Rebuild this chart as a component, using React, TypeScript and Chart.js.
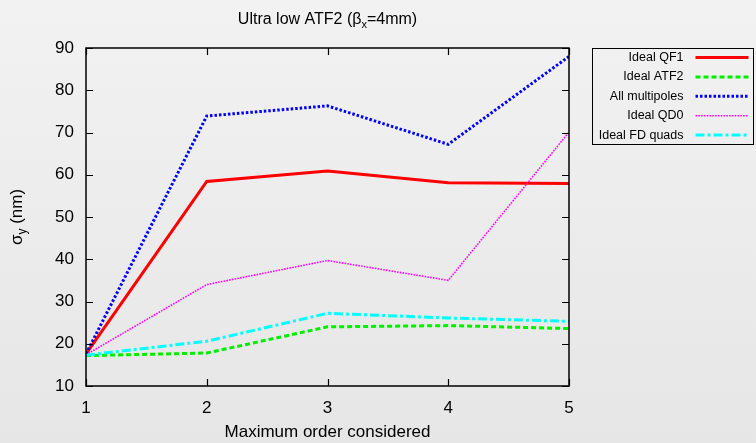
import React, { useEffect, useRef } from 'react';
import { Chart, registerables } from 'chart.js';

Chart.register(...registerables);

const FONT = '"Liberation Sans", Arial, Helvetica, sans-serif';

const orders = [1, 2, 3, 4, 5];
const yTickValues = [10, 20, 30, 40, 50, 60, 70, 80, 90];
const seriesLabels = ['Ideal QF1', 'Ideal ATF2', 'All multipoles', 'Ideal QD0', 'Ideal FD quads'];
const qf1 = [17.6, 58.4, 60.9, 58.1, 57.9];
const atf2 = [17.2, 17.8, 24.0, 24.3, 23.6];
const allMultipoles = [17.6, 73.9, 76.3, 67.2, 88.0];
const qd0 = [17.4, 34.0, 39.7, 35.0, 70.1];
const fdQuads = [17.3, 20.6, 27.2, 26.1, 25.3];

const colors = ['#ff0000', '#00ee00', '#0000ff', '#ff00ff', '#00ffff'];
const widths = [3, 3, 3, 1.6, 3];
const dashes: number[][] = [[], [5, 3], [2.5, 2], [1.6, 1.2], [9, 3, 3, 3]];

const framePlugin = {
  id: 'gnuFrame',
  beforeDraw(chart: any) {
    const { ctx, width, height } = chart;
    ctx.save();
    const g = ctx.createLinearGradient(0, 0, 0, height);
    g.addColorStop(0, '#f2f2f2');
    g.addColorStop(1, '#e6e6e6');
    ctx.fillStyle = g;
    ctx.fillRect(0, 0, width, height);
    ctx.restore();
  },
  afterDraw(chart: any) {
    const { ctx, chartArea } = chart;
    const { left, right, top, bottom } = chartArea;
    const xs = chart.scales.x;
    const ys = chart.scales.y;
    ctx.save();
    ctx.strokeStyle = '#000';
    ctx.lineWidth = 1.5;
    ctx.setLineDash([]);
    ctx.strokeRect(left, top, right - left, bottom - top);
    ctx.lineWidth = 1.2;
    const tl = 7;
    ctx.beginPath();
    yTickValues.forEach((v) => {
      const y = Math.round(ys.getPixelForValue(v)) + 0.5;
      ctx.moveTo(left, y);
      ctx.lineTo(left + tl, y);
      ctx.moveTo(right, y);
      ctx.lineTo(right - tl, y);
    });
    orders.forEach((v) => {
      const x = Math.round(xs.getPixelForValue(v)) + 0.5;
      ctx.moveTo(x, bottom);
      ctx.lineTo(x, bottom - tl);
      ctx.moveTo(x, top);
      ctx.lineTo(x, top + tl);
    });
    ctx.stroke();

    // Title with subscript
    ctx.fillStyle = '#000';
    ctx.textBaseline = 'alphabetic';
    const mainFont = `16px ${FONT}`;
    const subFont = `11px ${FONT}`;
    const parts: [string, boolean][] = [['Ultra low ATF2 (\u03B2', false], ['x', true], ['=4mm)', false]];
    let total = 0;
    parts.forEach(([t, sub]) => {
      ctx.font = sub ? subFont : mainFont;
      total += ctx.measureText(t).width;
    });
    let x0 = (left + right) / 2 - total / 2;
    const ty = 24;
    parts.forEach(([t, sub]) => {
      ctx.font = sub ? subFont : mainFont;
      ctx.fillText(t, x0, sub ? ty + 4 : ty);
      x0 += ctx.measureText(t).width;
    });

    // Y axis title rotated
    ctx.save();
    ctx.translate(22, (top + bottom) / 2);
    ctx.rotate(-Math.PI / 2);
    const yMain = `17px ${FONT}`;
    const ySub = `12px ${FONT}`;
    const yParts: [string, boolean][] = [['\u03C3', false], ['y', true], [' (nm)', false]];
    let yt = 0;
    yParts.forEach(([t, sub]) => {
      ctx.font = sub ? ySub : yMain;
      yt += ctx.measureText(t).width;
    });
    let yx = -yt / 2;
    yParts.forEach(([t, sub]) => {
      ctx.font = sub ? ySub : yMain;
      ctx.fillText(t, yx, sub ? 4 : 0);
      yx += ctx.measureText(t).width;
    });
    ctx.restore();

    // Legend
    const lx = right + 23.5;
    const ly = top + 0.5;
    const lw = 161;
    const lh = 96;
    ctx.lineWidth = 1;
    ctx.strokeStyle = '#000';
    ctx.strokeRect(lx, ly, lw, lh);
    ctx.font = `12.5px ${FONT}`;
    ctx.textAlign = 'right';
    ctx.textBaseline = 'middle';
    chart.data.datasets.forEach((ds: any, i: number) => {
      const y = top + 9.5 + i * 19.4;
      ctx.fillStyle = '#000';
      ctx.fillText(ds.label, lx + 91, y);
      ctx.beginPath();
      ctx.strokeStyle = ds.borderColor;
      ctx.lineWidth = ds.borderWidth;
      ctx.setLineDash(ds.borderDash || []);
      ctx.moveTo(lx + 103, y);
      ctx.lineTo(lx + 156, y);
      ctx.stroke();
      ctx.setLineDash([]);
    });
    ctx.restore();
  },
};

export default function App() {
  const ref = useRef<HTMLCanvasElement>(null);
  useEffect(() => {
    document.body.style.margin = '0';
    const seriesValues = [qf1, atf2, allMultipoles, qd0, fdQuads];
    const chart = new Chart(ref.current!, {
      type: 'line',
      data: {
        datasets: seriesValues.map((vals, i) => ({
          label: seriesLabels[i],
          data: vals.map((v, j) => ({ x: orders[j], y: v })),
          borderColor: colors[i],
          backgroundColor: colors[i],
          borderWidth: widths[i],
          borderDash: dashes[i],
          pointRadius: 0,
          tension: 0,
          fill: false,
          order: seriesValues.length - i,
        })),
      },
      options: {
        responsive: false,
        animation: false,
        layout: { padding: { left: 0, top: 48, right: 187, bottom: 0 } },
        plugins: {
          legend: { display: false },
          title: { display: false },
          tooltip: { enabled: false },
        },
        scales: {
          x: {
            type: 'linear',
            min: 1,
            max: 5,
            afterBuildTicks: (s: any) => {
              s.ticks = orders.map((v) => ({ value: v }));
            },
            afterFit: (s: any) => {
              s.height = 57;
            },
            grid: { display: false, drawTicks: false },
            border: { display: false },
            ticks: {
              color: '#000',
              font: { family: FONT, size: 17 },
              padding: 12,
              maxRotation: 0,
              autoSkip: false,
            },
            title: {
              display: true,
              text: 'Maximum order considered',
              color: '#000',
              font: { family: FONT, size: 17 },
              padding: { top: 0, bottom: 0 },
            },
          },
          y: {
            type: 'linear',
            min: 10,
            max: 90,
            afterBuildTicks: (s: any) => {
              s.ticks = yTickValues.map((v) => ({ value: v }));
            },
            afterFit: (s: any) => {
              s.width = 86;
            },
            grid: { display: false, drawTicks: false },
            border: { display: false },
            ticks: {
              color: '#000',
              font: { family: FONT, size: 17 },
              padding: 12,
              autoSkip: false,
            },
          },
        },
      },
      plugins: [framePlugin],
    });
    return () => chart.destroy();
  }, []);
  return (
    <div style={{ width: 756, height: 443 }}>
      <canvas ref={ref} width={756} height={443} style={{ display: 'block' }} />
    </div>
  );
}
